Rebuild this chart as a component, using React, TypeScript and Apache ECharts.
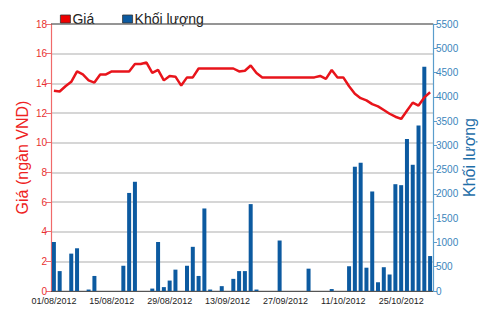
import React, { useEffect, useRef } from "react";
import * as echarts from "echarts";

const dates: string[] = [
  "01/08/2012", "02/08/2012", "03/08/2012", "06/08/2012", "07/08/2012", "08/08/2012", "09/08/2012", "10/08/2012",
  "13/08/2012", "14/08/2012", "15/08/2012", "16/08/2012", "17/08/2012", "20/08/2012", "21/08/2012", "22/08/2012",
  "23/08/2012", "24/08/2012", "27/08/2012", "28/08/2012", "29/08/2012", "30/08/2012", "31/08/2012",
  "04/09/2012", "05/09/2012", "06/09/2012", "07/09/2012", "10/09/2012", "11/09/2012", "12/09/2012", "13/09/2012",
  "14/09/2012", "17/09/2012", "18/09/2012", "19/09/2012", "20/09/2012", "21/09/2012", "24/09/2012", "25/09/2012",
  "26/09/2012", "27/09/2012", "28/09/2012",
  "01/10/2012", "02/10/2012", "03/10/2012", "04/10/2012", "05/10/2012", "08/10/2012", "09/10/2012", "10/10/2012",
  "11/10/2012", "12/10/2012", "15/10/2012", "16/10/2012", "17/10/2012", "18/10/2012", "19/10/2012", "22/10/2012",
  "23/10/2012", "24/10/2012", "25/10/2012", "26/10/2012", "29/10/2012", "30/10/2012", "31/10/2012", "01/11/2012",
];

const prices: number[] = [
  13.5, 13.45, 13.8, 14.1, 14.8, 14.6, 14.2, 14.05, 14.6, 14.6,
  14.8, 14.8, 14.8, 14.8, 15.3, 15.3, 15.4, 14.7, 14.9, 14.2,
  14.5, 14.45, 13.85, 14.4, 14.4, 15.0, 15.0, 15.0, 15.0, 15.0,
  15.0, 15.0, 14.8, 14.85, 15.2, 14.7, 14.4, 14.4, 14.4, 14.4,
  14.4, 14.4, 14.4, 14.4, 14.4, 14.4, 14.5, 14.3, 14.9, 14.4,
  14.4, 13.8, 13.3, 13.0, 12.85, 12.6, 12.45, 12.2, 11.95, 11.75,
  11.6, 12.15, 12.7, 12.5, 13.05, 13.4,
];

const volumes: number[] = [
  1010, 410, 0, 770, 880, 0, 30, 310, 0, 0,
  0, 0, 520, 2020, 2250, 0, 0, 50, 1010, 80,
  215, 440, 0, 520, 910, 310, 1700, 30, 0, 100,
  0, 250, 410, 410, 1790, 30, 0, 0, 0, 1040,
  0, 0, 0, 0, 460, 0, 0, 0, 40, 0,
  0, 510, 2560, 2640, 480, 2050, 180, 490, 340, 2200,
  2180, 3130, 2600, 3410, 4620, 720,
];

const priceTicks = { min: 0, max: 18, interval: 2 };
const volumeTicks = { min: 0, max: 5500, interval: 500 };

const RED = "#e8141b";
const sans = "'Liberation Sans', Arial, sans-serif";

export default function App() {
  const ref = useRef<HTMLDivElement>(null);
  useEffect(() => {
    if (!ref.current) return;
    const chart = echarts.init(ref.current, null, { renderer: "svg" });
    const gridLeft = 51;
    const gridRight = 67;
    const gridTop = 24;
    const gridBottom = 21;
    chart.setOption({
      animation: false,
      backgroundColor: "#ffffff",
      grid: { left: gridLeft, right: gridRight, top: gridTop, bottom: gridBottom },
      legend: {
        left: 55,
        top: 7,
        itemWidth: 10,
        itemHeight: 8,
        itemGap: 28,
        icon: "rect",
        textStyle: { fontFamily: sans, fontSize: 14, color: "#222", padding: [0, 0, 0, -3] },
        data: [
          { name: "Giá", itemStyle: { color: "#ee0000", borderColor: "#333", borderWidth: 0.8 } },
          { name: "Khối lượng", itemStyle: { color: "#0c5aa0", borderColor: "#333", borderWidth: 0.8 } },
        ],
      },
      graphic: [
        {
          type: "line",
          shape: { x1: gridLeft, y1: gridTop, x2: 500 - gridRight, y2: gridTop },
          style: { stroke: "#555", lineWidth: 1.2 },
          z: 10,
        },
      ],
      xAxis: {
        type: "category",
        data: dates,
        boundaryGap: true,
        axisLine: { lineStyle: { color: "#555", width: 1.2 } },
        axisTick: {
          alignWithLabel: true,
          interval: (i: number) => i % 10 === 0,
          length: 5,
          lineStyle: { color: "#555" },
        },
        axisLabel: {
          interval: (i: number) => i % 10 === 0,
          fontFamily: sans,
          fontSize: 9,
          color: "#222",
          margin: 5,
        },
        splitLine: { show: false },
      },
      yAxis: [
        {
          type: "value",
          ...priceTicks,
          position: "left",
          name: "Giá (ngàn VND)",
          nameLocation: "middle",
          nameGap: 21,
          nameMoveOverlap: false,
          nameTextStyle: { color: "#ee2222", fontSize: 16, fontFamily: sans },
          axisLine: { show: true, lineStyle: { color: "#f06a6a", width: 1.2 } },
          axisTick: { show: true, length: 5, lineStyle: { color: "#f06a6a" } },
          axisLabel: { color: "#e83030", fontFamily: sans, fontSize: 10, margin: 4 },
          splitLine: { show: true, lineStyle: { color: "#d6d6d6", width: 2 } },
        },
        {
          type: "value",
          ...volumeTicks,
          position: "right",
          name: "Khối lượng",
          nameLocation: "middle",
          nameGap: 28,
          nameRotate: 90,
          nameMoveOverlap: false,
          nameTextStyle: { color: "#1f6ea8", fontSize: 16, fontFamily: sans },
          axisLine: { show: true, lineStyle: { color: "#5a9dcc", width: 1.2 } },
          axisTick: { show: true, length: 4, lineStyle: { color: "#5a9dcc" } },
          axisLabel: {
            color: "#3a85bb",
            fontFamily: sans,
            fontSize: 10,
            margin: 3,
            formatter: (v: number) => String(v),
          },
          splitLine: { show: false },
        },
      ],
      series: [
        {
          name: "Khối lượng",
          type: "bar",
          yAxisIndex: 1,
          data: volumes,
          barWidth: 4,
          itemStyle: { color: "#0c5aa0" },
          z: 2,
        },
        {
          name: "Giá",
          type: "line",
          yAxisIndex: 0,
          data: prices,
          showSymbol: false,
          symbol: "none",
          lineStyle: { color: RED, width: 2.5 },
          itemStyle: { color: RED },
          z: 3,
        },
      ],
    });
    return () => chart.dispose();
  }, []);
  return (
    <div
      ref={ref}
      style={{ position: "fixed", left: 0, top: 0, width: 500, height: 312, background: "#fff" }}
    />
  );
}
